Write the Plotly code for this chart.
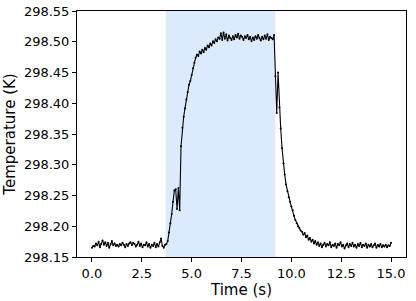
import numpy as np
import plotly.graph_objects as go

SAMPLE_INTERVAL = 1 / 15  # seconds between samples

temperature = [
    # baseline before heating
    298.165, 298.168, 298.167, 298.172, 298.169, 298.175, 298.166, 298.171, 298.177, 298.170,
    298.174, 298.168, 298.173, 298.165, 298.171, 298.176, 298.169, 298.172, 298.168, 298.170,
    298.167, 298.171, 298.169, 298.173, 298.170, 298.166, 298.171, 298.168, 298.172, 298.174,
    298.169, 298.173, 298.171, 298.167, 298.170, 298.175, 298.168, 298.172, 298.166, 298.170,
    298.169, 298.174, 298.167, 298.171, 298.165, 298.170, 298.168, 298.173, 298.166, 298.171,
    298.167, 298.174, 298.180, 298.168, 298.165, 298.170,
    # rise
    298.171, 298.176, 298.190, 298.205, 298.220, 298.240, 298.258, 298.260, 298.228, 298.262,
    298.226,
    298.330, 298.360, 298.378, 298.392, 298.406, 298.418, 298.430, 298.436, 298.446, 298.457,
    298.466, 298.474, 298.479, 298.477, 298.484, 298.481, 298.487, 298.483, 298.490, 298.487,
    298.494, 298.491, 298.497, 298.494, 298.501, 298.498, 298.504, 298.501, 298.507, 298.505,
    # plateau
    298.514, 298.503, 298.515, 298.505, 298.512, 298.502, 298.510, 298.506, 298.503, 298.509,
    298.504, 298.511, 298.507, 298.513, 298.505, 298.510, 298.508, 298.503, 298.509, 298.506,
    298.511, 298.504, 298.508, 298.501, 298.507, 298.503, 298.509, 298.505, 298.511, 298.506,
    298.502, 298.508, 298.504, 298.510, 298.505, 298.512, 298.503, 298.508, 298.506, 298.504,
    298.511,
    # drop and decay
    298.444, 298.384, 298.450, 298.393, 298.359, 298.327, 298.302, 298.284, 298.268, 298.257,
    298.247, 298.240, 298.232, 298.226, 298.217, 298.210, 298.205, 298.200, 298.197, 298.193,
    298.191, 298.186, 298.189, 298.182, 298.185, 298.178, 298.181, 298.175, 298.178, 298.172,
    298.176, 298.170, 298.174,
    # baseline after heating
    298.168, 298.172, 298.166, 298.170, 298.173, 298.167, 298.171, 298.169, 298.174, 298.166,
    298.170, 298.168, 298.172, 298.165, 298.171, 298.169, 298.174, 298.167, 298.170, 298.164,
    298.169, 298.172, 298.166, 298.171, 298.168, 298.173, 298.167, 298.170, 298.165, 298.171,
    298.168, 298.173, 298.166, 298.170, 298.168, 298.172, 298.165, 298.170, 298.167, 298.171,
    298.166, 298.169, 298.172, 298.165, 298.170, 298.167, 298.171, 298.166, 298.169, 298.167,
    298.170, 298.166, 298.169, 298.168, 298.173,
]
time = np.arange(len(temperature)) * SAMPLE_INTERVAL

heating_window = [3.7, 9.2]
x_ticks = [0.0, 2.5, 5.0, 7.5, 10.0, 12.5, 15.0]
y_ticks = [298.15, 298.20, 298.25, 298.30, 298.35, 298.40, 298.45, 298.50, 298.55]

fig = go.Figure()
fig.add_vrect(x0=heating_window[0], x1=heating_window[1], fillcolor="#dbeafd",
              opacity=1, line_width=0, layer="below")
fig.add_trace(go.Scatter(
    x=time, y=temperature, mode="lines+markers",
    line=dict(color="black", width=1.1),
    marker=dict(color="black", size=2),
    showlegend=False,
))

font = "DejaVu Sans"
fig.update_layout(
    width=416, height=301,
    margin=dict(l=77, r=10, t=11, b=44),
    paper_bgcolor="white", plot_bgcolor="white",
    font=dict(family=font, size=13, color="black"),
)
fig.update_xaxes(
    range=[-0.75, 15.75], tickvals=x_ticks, ticktext=[f"{v:.1f}" for v in x_ticks],
    showgrid=False, zeroline=False, showline=True, linecolor="black", linewidth=1,
    mirror=True, ticks="outside", ticklen=4, tickcolor="black", automargin=False,
    title=dict(text="Time (s)", font=dict(size=15), standoff=0),
)
fig.update_yaxes(
    range=[298.15, 298.55], tickvals=y_ticks, ticktext=[f"{v:.2f}" for v in y_ticks],
    showgrid=False, zeroline=False, showline=True, linecolor="black", linewidth=1,
    mirror=True, ticks="outside", ticklen=4, tickcolor="black", automargin=False,
    title=dict(text="Temperature (K)", font=dict(size=15), standoff=4),
)

fig.write_html("out.html", config={"displayModeBar": False},
               post_script="document.body.style.margin='0';")
